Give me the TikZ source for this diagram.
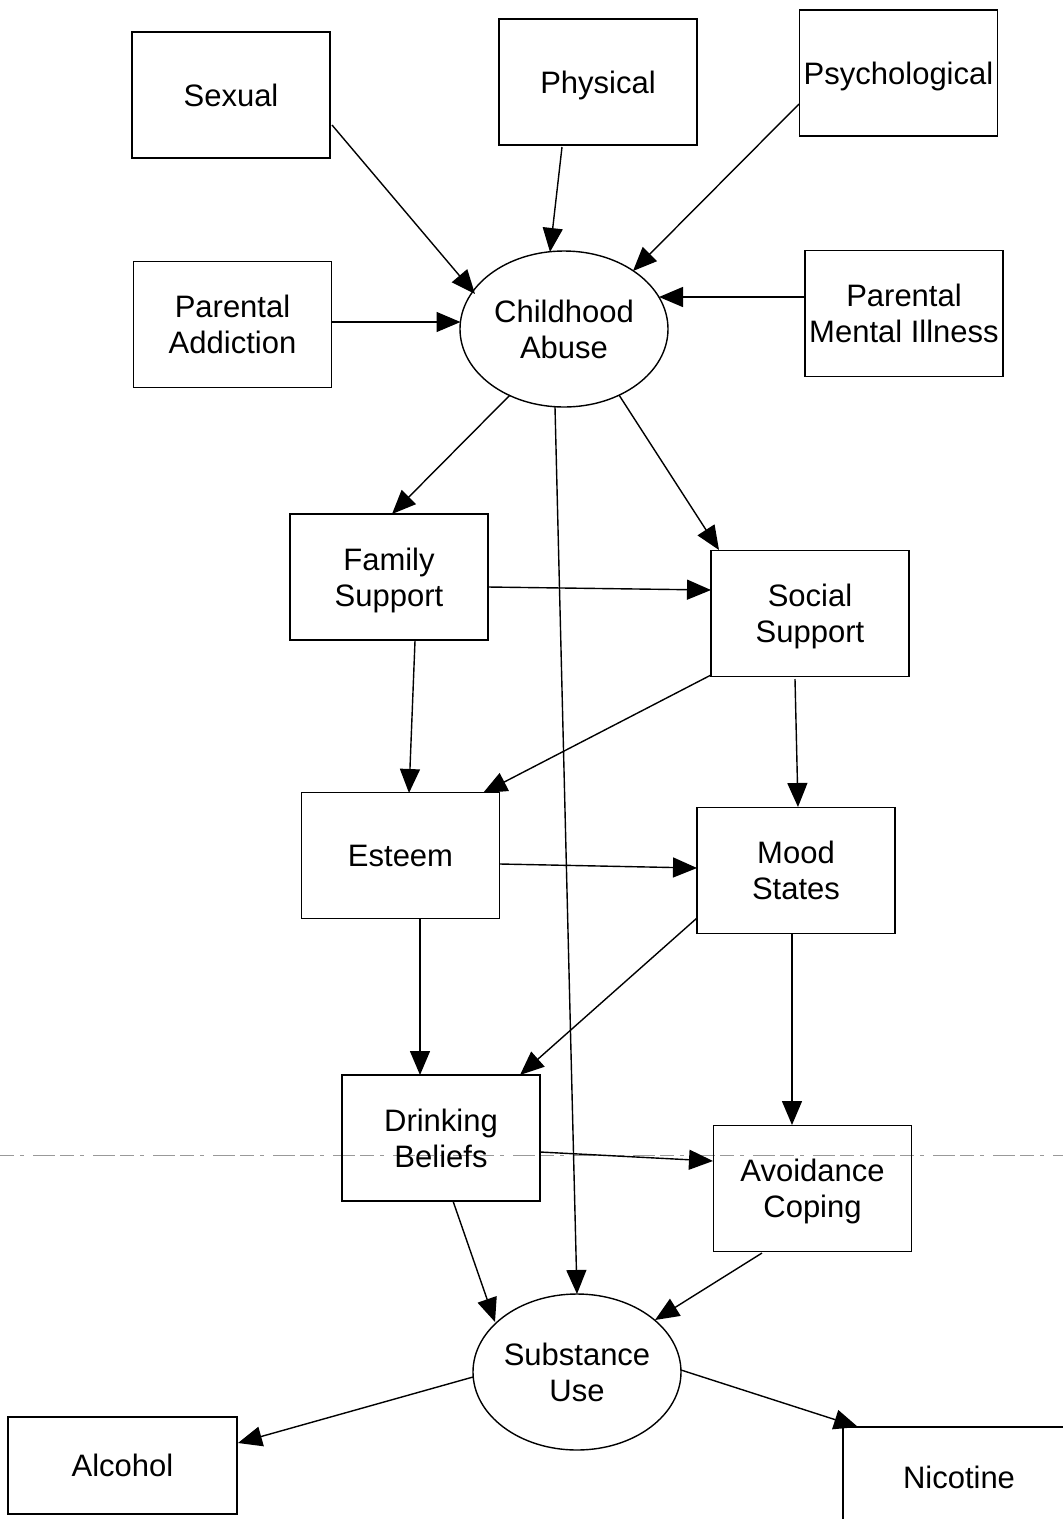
\documentclass[tikz,border=0pt]{standalone}
\usepackage{fontspec}
\setmainfont{Liberation Sans}
\usetikzlibrary{arrows.meta,calc,shapes.geometric}
\begin{document}
\begin{tikzpicture}[x=1pt,y=-1pt,
  every node/.style={font=\fontsize{31}{36}\selectfont, align=center, inner sep=0pt, text depth=0pt},
  box/.style={draw, line width=1.4pt, rectangle, minimum width=198pt, minimum height=126pt},
  oval/.style={draw, line width=1.4pt, ellipse, minimum width=208pt, minimum height=156pt},
  arr/.style={line width=1.4pt, -{Triangle[length=24pt,width=20pt]}},
  scanline/.style={draw=black!40, line width=0.8pt, dash pattern=on 14pt off 6pt on 4pt off 9pt on 22pt off 5pt}]
\clip (0,0) rectangle (1063,1519);
\fill[white] (0,0) rectangle (1063,1519);
\draw[scanline] (0,1155) -- (1063,1155);

\node[box] (sexual) at (231,95) {Sexual};
\node[box] (physical) at (598,82) {Physical};
\node[box] (psych) at (898.5,73) {Psychological};
\node[box] (paddict) at (232.5,324.5) {Parental\\Addiction};
\node[box] (pmi) at (904,313.5) {Parental\\Mental Illness};
\node[oval] (ca) at (564,329) {Childhood\\Abuse};
\node[box] (fam) at (389,577) {Family\\Support};
\node[box] (soc) at (810,613.5) {Social\\Support};
\node[box] (est) at (400.5,855.5) {Esteem};
\node[box] (mood) at (796,870.5) {Mood\\States};
\node[box] (drink) at (441,1138) {Drinking\\Beliefs};
\node[box] (avoid) at (812.5,1188.5) {Avoidance\\Coping};
\node[oval] (su) at (577,1372) {Substance\\Use};
\node[box, minimum width=229pt, minimum height=97pt] (alc) at (122.5,1465.5) {Alcohol};
\node[box, minimum width=232pt, minimum height=100pt] (nic) at (959,1477) {Nicotine};

\draw[arr] ($(sexual)+(101,30)$) -- ($(ca)+(-89,-35)$);
\draw[arr] ($(physical)+(-36,65)$) -- ($(ca)+(-14,-77)$);
\draw[arr] ($(psych)+(-99.5,31)$) -- ($(ca)+(69,-58)$);
\draw[arr] ($(paddict)+(98.5,-2.5)$) -- ($(ca)+(-103.5,-7)$);
\draw[arr] ($(pmi)+(-99,-16.5)$) -- ($(ca)+(95,-32)$);
\draw[arr] ($(ca)+(-54,66)$) -- ($(fam)+(3,-63)$);
\draw[arr] ($(ca)+(-9,78)$) -- ($(su)+(0,-78)$);
\draw[arr] ($(ca)+(55,66)$) -- ($(soc)+(-91,-63.5)$);
\draw[arr] ($(fam)+(99,10)$) -- ($(soc)+(-99,-23.5)$);
\draw[arr] ($(fam)+(26,64)$) -- ($(est)+(8.5,-62.5)$);
\draw[arr] ($(soc)+(-99,61.5)$) -- ($(est)+(82.5,-62.5)$);
\draw[arr] ($(soc)+(-15,65.5)$) -- ($(mood)+(2,-63.5)$);
\draw[arr] ($(est)+(99.5,8.5)$) -- ($(mood)+(-99,-2.5)$);
\draw[arr] ($(est)+(19.5,62.5)$) -- ($(drink)+(-21,-63)$);
\draw[arr] ($(mood)+(-99,47.5)$) -- ($(drink)+(79,-63)$);
\draw[arr] ($(mood)+(-4,63.5)$) -- ($(avoid)+(-20.5,-63.5)$);
\draw[arr] ($(drink)+(99,14)$) -- ($(avoid)+(-99.5,-27.5)$);
\draw[arr] ($(drink)+(12,63)$) -- ($(su)+(-82,-50)$);
\draw[arr] ($(avoid)+(-50.5,64.5)$) -- ($(su)+(78,-52)$);
\draw[arr] ($(su)+(-104,5)$) -- ($(alc)+(115.5,-22.5)$);
\draw[arr] ($(su)+(104,-2)$) -- ($(nic)+(-101,-50)$);
\end{tikzpicture}
\end{document}
